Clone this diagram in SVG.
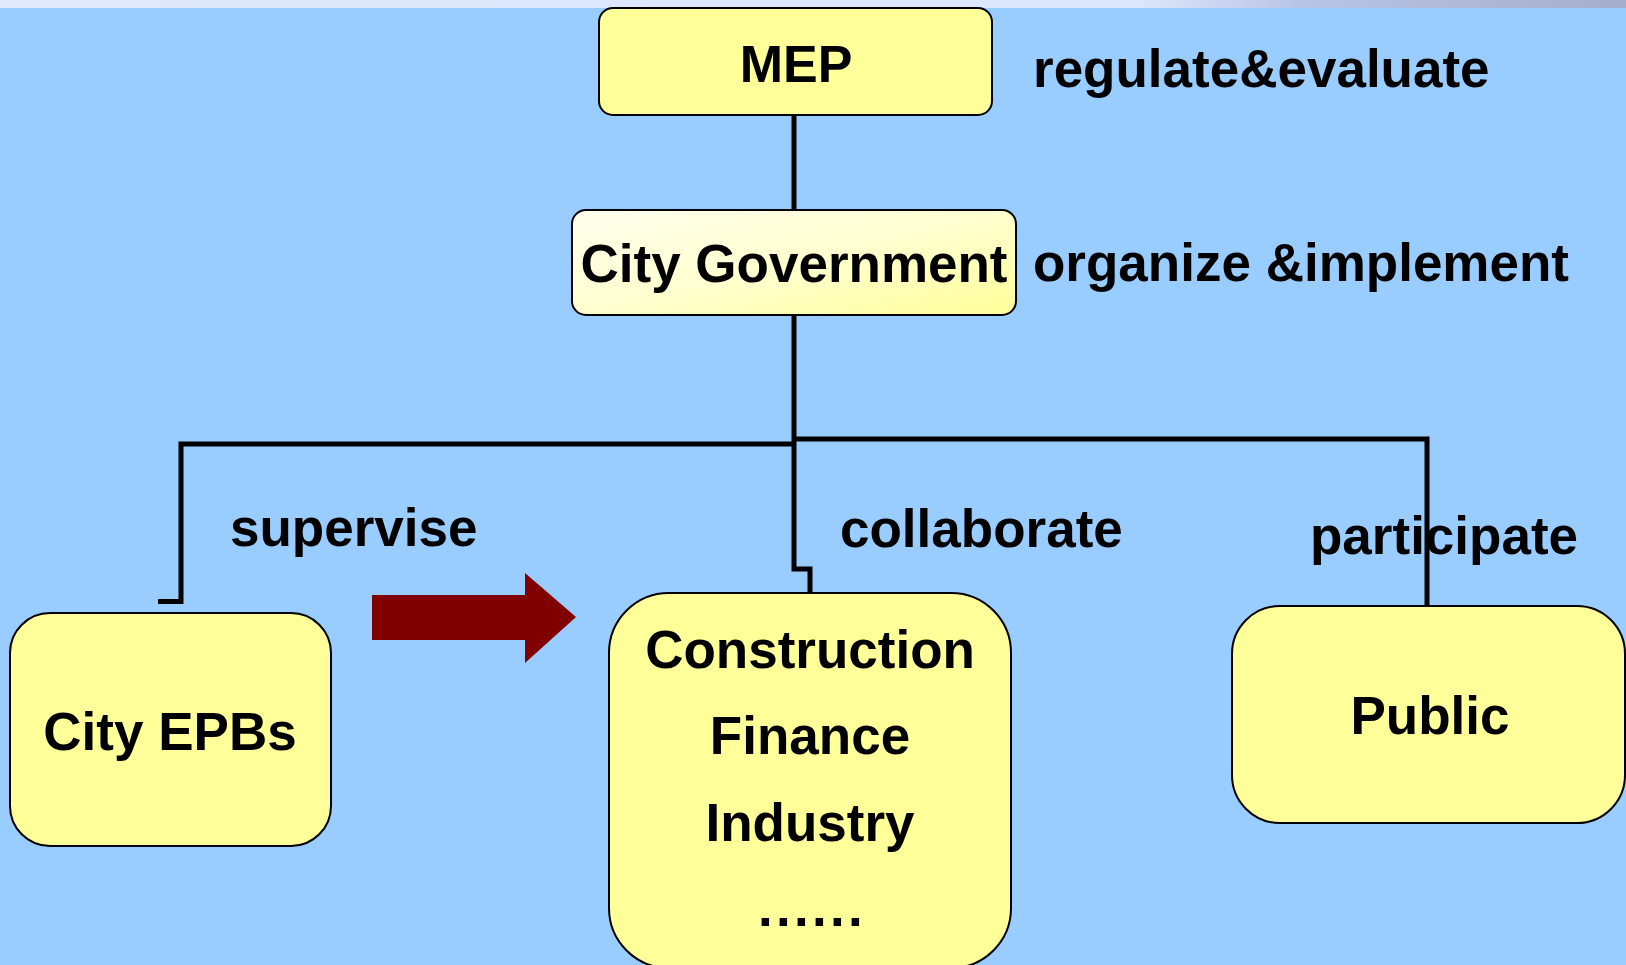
<svg xmlns="http://www.w3.org/2000/svg" width="1626" height="965" viewBox="0 0 1626 965">
<defs>
<linearGradient id="topband" x1="0" y1="0" x2="1" y2="0">
<stop offset="0" stop-color="#dfe8fc"/>
<stop offset="0.7" stop-color="#dbe6fd"/>
<stop offset="0.8" stop-color="#b8c4e4"/>
<stop offset="1" stop-color="#a4afcc"/>
</linearGradient>
<linearGradient id="govfill" x1="0" y1="0" x2="1" y2="1">
<stop offset="0" stop-color="#ffffee"/>
<stop offset="0.5" stop-color="#ffffd0"/>
<stop offset="1" stop-color="#ffff99"/>
</linearGradient>
<style>
.box{fill:#ffff99;stroke:#000;stroke-width:2}
.t{font-family:"Liberation Sans",Arial,sans-serif;font-weight:bold;font-size:53px;fill:#000}
.c{text-anchor:middle}
.ln{fill:none;stroke:#000;stroke-width:5;stroke-linejoin:miter}
</style>
</defs>
<rect x="0" y="0" width="1626" height="965" fill="#99ccff"/>
<rect x="0" y="0" width="1626" height="8" fill="url(#topband)"/>

<g id="node-mep">
<rect class="box" x="599" y="8" width="393" height="107" rx="14"/>
<text class="t c" x="796" y="82" style="font-size:52px">MEP</text>
</g>
<g id="node-citygov">
<rect class="box" x="572" y="210" width="444" height="105" rx="14" style="fill:url(#govfill)"/>
<text class="t c" x="794" y="282">City Government</text>
</g>
<g id="node-epbs">
<rect class="box" x="10" y="613" width="321" height="233" rx="40"/>
<text class="t c" x="170" y="750">City EPBs</text>
</g>
<g id="node-sectors">
<rect class="box" x="609" y="593" width="402" height="375" rx="60"/>
<text class="t c" x="810" y="668">Construction</text>
<text class="t c" x="810" y="754">Finance</text>
<text class="t c" x="810" y="841">Industry</text>
<text class="t c" x="812" y="926" style="letter-spacing:3.3px">......</text>
</g>
<g id="node-public">
<rect class="box" x="1232" y="606" width="393" height="217" rx="48"/>
<text class="t c" x="1430" y="734">Public</text>
</g>

<g id="arrow">
<polygon points="372,595 525,595 525,573 576,617 525,663 525,640 372,640" fill="#800000"/>
</g>

<g id="labels">
<text class="t" x="1033" y="87">regulate&amp;evaluate</text>
<text class="t" x="1033" y="281">organize &amp;implement</text>
<text class="t" x="230" y="546">supervise</text>
<text class="t" x="840" y="547">collaborate</text>
<text class="t" x="1310" y="554">participate</text>
</g>

<g id="connectors">
<path class="ln" d="M794 115 V210"/>
<path class="ln" d="M794 315 V569 H810 V593"/>
<path class="ln" d="M794 444 H181 V601.5 H158"/>
<path class="ln" d="M794 439 H1427 V606"/>
</g>
</svg>
